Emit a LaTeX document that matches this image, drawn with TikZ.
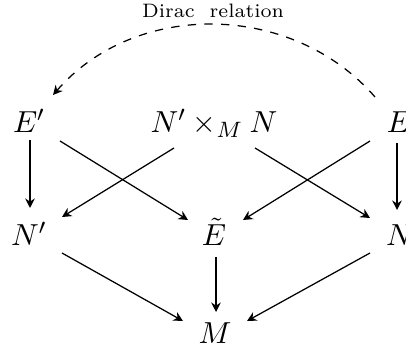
\documentclass[tikz,border=0pt]{standalone}
\usetikzlibrary{arrows.meta}
\begin{document}
\begin{tikzpicture}[x=0.36pt,y=-0.36pt,
  obj/.style={inner sep=0pt,anchor=base,font=\fontsize{11}{13}\selectfont},
  arr/.style={-{Stealth[length=3.4pt,width=3.4pt,inset=1.1pt]},line width=0.45pt},
  lbl/.style={inner sep=0pt,anchor=base,font=\scriptsize}]
\useasboundingbox (0,0) rectangle (406,354);
\node[obj] (Ep) at (29,133) {$E'$};
\node[obj] (NxN) at (214,133) {$N'\times_M N$};
\node[obj] (E) at (399,133) {$E$};
\node[obj] (Np) at (29,246) {$N'$};
\node[obj] (Et) at (214,246) {$\tilde{E}$};
\node[obj] (N) at (400,246) {$N$};
\node[obj] (M) at (215,343) {$M$};
\node[lbl] (dl) at (213,18) {Dirac\ \ relation};
\draw[arr] ([shift={(1,7)}]Ep.base) -- ([shift={(1,-38)}]Np.base);
\draw[arr] ([shift={(31,8)}]Ep.base) -- ([shift={(-26,-26)}]Et.base);
\draw[arr] ([shift={(-40,15)}]NxN.base) -- ([shift={(33,-29)}]Np.base);
\draw[arr] ([shift={(41,15)}]NxN.base) -- ([shift={(-30,-28)}]N.base);
\draw[arr] ([shift={(-29,8)}]E.base) -- ([shift={(29,-26)}]Et.base);
\draw[arr] ([shift={(-2,10)}]E.base) -- ([shift={(-3,-36)}]N.base);
\draw[arr] ([shift={(33,7)}]Np.base) -- ([shift={(-32,-22)}]M.base);
\draw[arr] ([shift={(2,11)}]Et.base) -- ([shift={(1,-31)}]M.base);
\draw[arr] ([shift={(-30,7)}]N.base) -- ([shift={(32,-22)}]M.base);
\draw[arr,dashed] ([shift={(-24,-36)}]E.base) to[out=131,in=49] ([shift={(24,-38)}]Ep.base);
\end{tikzpicture}
\end{document}
